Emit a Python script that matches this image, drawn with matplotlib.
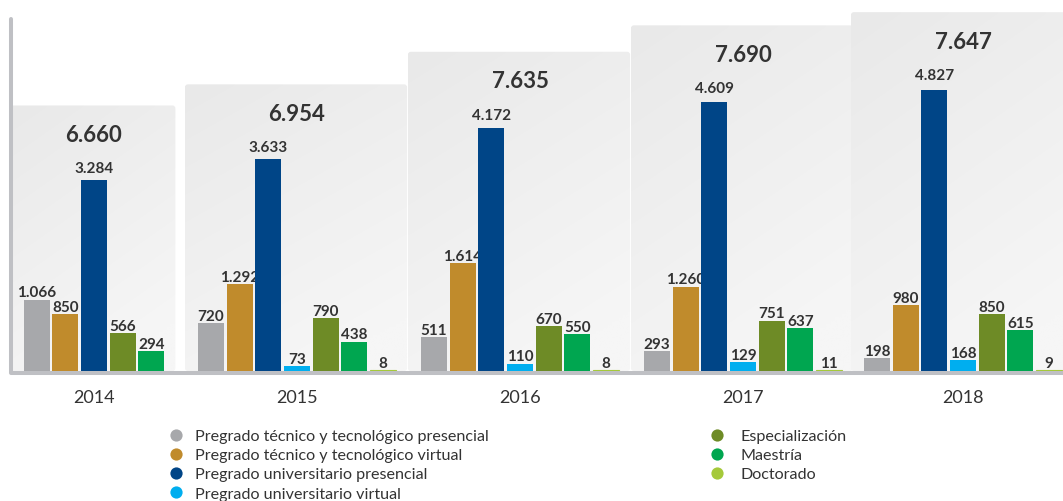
import matplotlib
matplotlib.use("Agg")
import matplotlib.pyplot as plt
import numpy as np
from matplotlib.patches import FancyBboxPatch
from matplotlib.colors import to_rgb

plt.rcParams['font.family'] = ['Lato', 'DejaVu Sans']

# ---------------- data ----------------
years = ['2014', '2015', '2016', '2017', '2018']
totals = [6660, 6954, 7635, 7690, 7647]

series_names = [
    'Pregrado técnico y tecnológico presencial',
    'Pregrado técnico y tecnológico virtual',
    'Pregrado universitario presencial',
    'Pregrado universitario virtual',
    'Especialización',
    'Maestría',
    'Doctorado',
]
tec_presencial = [1066, 720, 511, 293, 198]
tec_virtual = [850, 1292, 1614, 1260, 980]
uni_presencial = [3284, 3633, 4172, 4609, 4827]
uni_virtual = [None, 73, 110, 129, 168]
especializacion = [566, 790, 670, 751, 850]
maestria = [294, 438, 550, 637, 615]
doctorado = [None, 8, 8, 11, 9]
series_values = [tec_presencial, tec_virtual, uni_presencial, uni_virtual,
                 especializacion, maestria, doctorado]
series_colors = ['#a7a8ab', '#c08b2c', '#004587', '#00aeef',
                 '#6e8b26', '#00a650', '#a5c93a']
BIG = 2  # index of the series drawn on its own (compressed) scale

# ---------------- layout ----------------
W, H, DPI = 1063, 502, 100
BASE = 372                      # baseline, pixels from top
group_centers = [94, 297, 520, 743, 963]
STEP, BAR_W = 28.7, 26
TXT = '#333333'

def fmt(v):
    return f"{v:,}".replace(',', '.')

fig = plt.figure(figsize=(W / DPI, H / DPI), dpi=DPI)
fig.patch.set_facecolor('white')

# background / decoration axes in pixel coordinates
bg = fig.add_axes([0, 0, 1, 1], zorder=0)
bg.set_xlim(0, W)
bg.set_ylim(H, 0)
bg.set_autoscale_on(False)
bg.axis('off')

rect = [0, (H - BASE) / H, 1, BASE / H]
ax = fig.add_axes(rect, zorder=1)
ax.set_xlim(0, W)
ax.set_ylim(0, BASE / 0.067)
ax.axis('off')
ax.patch.set_visible(False)

axb = fig.add_axes(rect, zorder=2)
axb.set_xlim(0, W)
axb.set_ylim(0, BASE / 0.0583)
axb.axis('off')
axb.patch.set_visible(False)

fig.canvas.draw()

c_top = np.array(to_rgb('#e9e9e9'))
c_bot = np.array(to_rgb('#f6f6f6'))

for gi, year in enumerate(years):
    present = [si for si in range(len(series_values)) if series_values[si][gi] is not None]
    n = len(present)
    cx = group_centers[gi]
    xs = [cx + (k - (n - 1) / 2) * STEP for k in range(n)]

    # background panel, its top tied to the big bar's label
    lab_y = axb.transData.transform((0, uni_presencial[gi] * 1.037))[1]
    top_px = H - lab_y - 67
    half = (n - 1) / 2 * STEP + BAR_W / 2 + 11
    x0, x1 = cx - half - 2, cx + half
    panel = FancyBboxPatch((x0, top_px), x1 - x0, BASE - top_px,
                           boxstyle='round,pad=0,rounding_size=3',
                           facecolor='none', edgecolor='none', zorder=1)
    bg.add_patch(panel)
    yy, xx = np.mgrid[0:1:100j, 0:1:100j]
    t = np.clip(0.8 * yy + 0.35 * xx, 0, 1)[..., None]
    img = c_top * (1 - t) + c_bot * t
    im = bg.imshow(img, extent=(x0, x1, BASE, top_px), aspect='auto',
                   zorder=1, interpolation='bilinear')
    im.set_clip_path(panel)

    # total label
    bg.text(cx, top_px + 29, fmt(totals[gi]), ha='center', va='center',
            fontsize=16, fontweight='bold', color=TXT, zorder=5)

    # bars
    for k, si in enumerate(present):
        v = series_values[si][gi]
        col = series_colors[si]
        if si == BIG:
            axb.bar(xs[k], v, width=BAR_W, color=col, zorder=3)
            axb.text(xs[k], v * 1.037, fmt(v), ha='center', va='baseline',
                     fontsize=11, fontweight='bold', color=TXT, zorder=4)
        else:
            lw = 0.8 if v < 20 else 0
            ax.bar(xs[k], v, width=BAR_W, color=col, edgecolor=col,
                   linewidth=lw, zorder=3)
            ax.annotate(fmt(v), (xs[k], v), xytext=(0, 2.3),
                        textcoords='offset points', ha='center',
                        va='baseline', fontsize=11, fontweight='bold',
                        color=TXT, zorder=4)

    # year label
    bg.text(cx, 403, year, ha='center', va='baseline', fontsize=13,
            color=TXT, zorder=5)

# axis lines (left + bottom)
bg.plot([11, 11, W + 5], [20, 374, 374], color='#bfc0c4', lw=2.9,
        solid_joinstyle='round', solid_capstyle='round', zorder=2)

# legend
leg_cols = [(176, 195, [0, 1, 2, 3]), (717, 740, [4, 5, 6])]
for mx, tx, idxs in leg_cols:
    for r, si in enumerate(idxs):
        y = 435.5 + r * 19.3
        bg.plot([mx], [y], marker='o', markersize=8.8, color=series_colors[si],
                markeredgewidth=0, zorder=5)
        bg.text(tx, y + 5.4, series_names[si], ha='left', va='baseline',
                fontsize=11.6, color=TXT, zorder=5)

fig.savefig('out.png', dpi=DPI, facecolor='white')
